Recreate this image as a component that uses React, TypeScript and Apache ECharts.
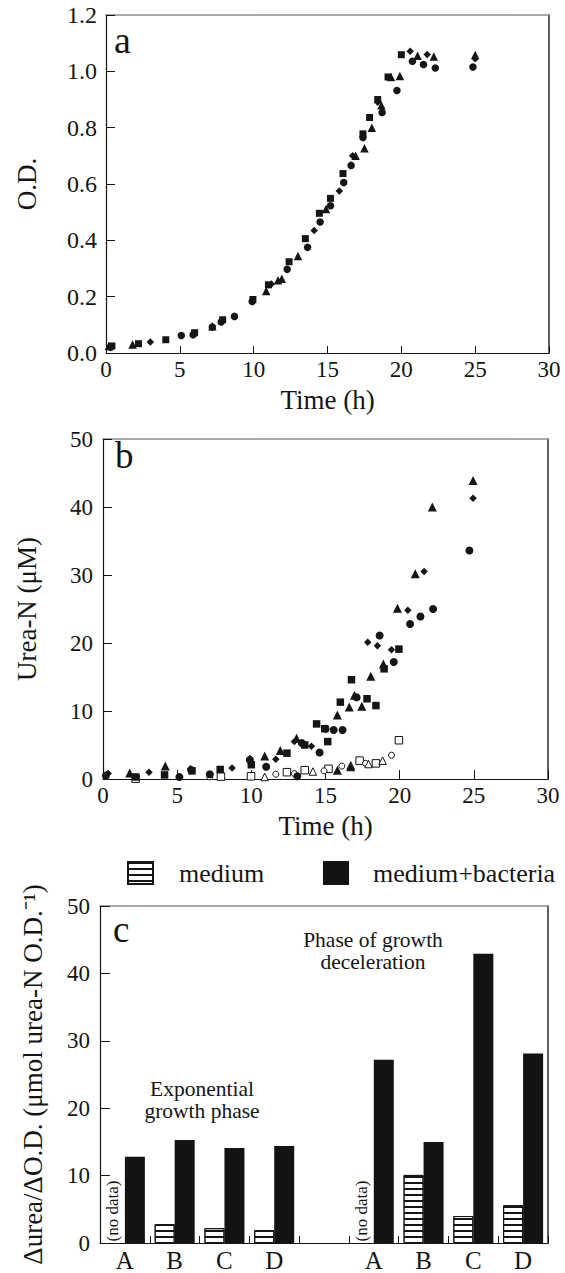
import React, { useEffect, useRef } from "react";
import * as echarts from "echarts";

const FONT = "Liberation Serif";
const INK = "#151515";

// ---------- Panel a: O.D. vs Time (h), four cultures ----------
const odCircles: [number, number][] = [
  [0.3, 0.02], [5.1, 0.062], [5.9, 0.065], [7.2, 0.092], [7.8, 0.11], [8.7, 0.13],
  [9.9, 0.183], [12.27, 0.297], [13.65, 0.375], [14.5, 0.465], [15.2, 0.523],
  [16.1, 0.605], [16.6, 0.666], [17.4, 0.765], [18.7, 0.854], [19.7, 0.932],
  [20.75, 1.036], [21.5, 1.024], [22.3, 1.012], [24.85, 1.015],
];
const odSquares: [number, number][] = [
  [0.4, 0.025], [2.2, 0.033], [4.05, 0.047], [6.0, 0.072], [7.9, 0.118], [9.95, 0.19],
  [11.0, 0.242], [12.4, 0.324], [13.5, 0.406], [14.45, 0.496], [15.2, 0.549],
  [16.05, 0.637], [17.4, 0.778], [17.85, 0.836], [18.4, 0.9], [19.1, 0.98], [20.0, 1.059],
];
const odTriangles: [number, number][] = [
  [0.2, 0.025], [1.8, 0.03], [7.2, 0.095], [10.85, 0.22], [11.65, 0.258], [11.9, 0.264],
  [13.0, 0.344], [14.9, 0.511], [16.9, 0.7], [17.5, 0.727], [18.0, 0.8], [18.65, 0.88],
  [19.3, 0.98], [19.9, 0.983], [21.1, 1.055], [22.2, 1.053], [25.0, 1.058],
];
const odDiamonds: [number, number][] = [
  [3.0, 0.039], [11.2, 0.245], [14.1, 0.435], [15.8, 0.575], [16.7, 0.7], [18.4, 0.89],
  [20.6, 1.071], [21.75, 1.06], [25.0, 1.045],
];

// ---------- Panel b: Urea-N (µM) vs Time (h) ----------
const ureaCircles: [number, number][] = [
  [0.2, 0.5], [5.15, 0.3], [5.95, 1.3], [7.2, 0.7], [9.9, 2.8], [11.0, 1.8], [13.1, 0.4],
  [13.4, 5.3], [14.6, 3.9], [15.0, 7.4], [15.55, 7.2], [16.15, 7.2], [17.1, 12.0],
  [18.65, 21.1], [19.6, 17.2], [20.7, 22.8], [21.4, 23.9], [22.25, 25.0], [24.7, 33.6],
];
const ureaSquares: [number, number][] = [
  [2.2, 0.3], [4.15, 0.6], [6.0, 1.2], [7.9, 1.4], [10.0, 2.1], [12.4, 3.8], [13.6, 5.0],
  [14.4, 8.1], [14.95, 7.4], [15.15, 5.5], [16.0, 11.3], [16.75, 14.6], [17.8, 11.8],
  [18.4, 10.8], [18.95, 16.2], [19.95, 19.1],
];
const ureaTriangles: [number, number][] = [
  [1.8, 0.9], [4.2, 1.9], [10.9, 3.4], [11.95, 4.2], [13.05, 6.0], [15.8, 1.3], [15.8, 9.4],
  [16.6, 10.6], [16.7, 1.8], [16.95, 12.3], [17.45, 10.7], [18.05, 15.1], [18.9, 16.9],
  [19.85, 25.1], [21.05, 30.2], [22.2, 40.0], [24.95, 43.9],
];
const ureaDiamonds: [number, number][] = [
  [0.35, 0.8], [3.1, 1.0], [5.9, 1.5], [8.7, 1.6], [9.9, 3.0], [11.65, 2.9], [12.9, 5.5],
  [14.05, 4.8], [17.85, 20.1], [18.5, 19.6], [19.45, 19.0], [20.55, 24.8], [21.65, 30.5],
  [24.95, 41.3],
];
const mediumSquares: [number, number][] = [
  [2.2, 0.05], [7.95, 0.35], [9.98, 0.4], [12.4, 1.0], [13.6, 1.3], [15.2, 1.5],
  [17.3, 2.7], [18.4, 2.3], [19.95, 5.7],
];
const mediumCircles: [number, number][] = [
  [7.2, 0.3], [11.65, 0.7], [12.9, 0.8], [14.9, 1.2], [16.1, 1.9], [17.7, 2.3], [19.45, 3.5],
];
const mediumTriangles: [number, number][] = [
  [10.9, 0.3], [14.15, 1.1], [16.7, 2.0], [17.9, 2.2], [18.85, 2.7],
];

// ---------- Panel c: Δurea/ΔO.D. ----------
const phaseCategories = ["A", "B", "C", "D", "", "A", "B", "C", "D"];
const mediumRates = [null, 2.8, 2.2, 1.9, null, null, 10.1, 4.0, 5.6];
const bacteriaRates = [12.8, 15.3, 14.1, 14.4, null, 27.2, 15.0, 42.9, 28.1];
const noDataSlots = [0, 5];

const timeRange = { min: 0, max: 30, interval: 5 };
const odRange = { min: 0, max: 1.2, interval: 0.2 };
const ureaRange = { min: 0, max: 50, interval: 10 };
const rateRange = { min: 0, max: 50, interval: 10 };

const tickLabel = { color: INK, fontFamily: FONT, fontSize: 23 };
const nameStyle = { color: INK, fontFamily: FONT, fontSize: 27 };

function valueAxis(gridIndex: number, range: any, extra: any = {}) {
  return {
    type: "value",
    gridIndex,
    ...range,
    splitLine: { show: false },
    axisLine: { show: true, onZero: false, lineStyle: { color: INK, width: 1.2 } },
    axisTick: { show: true, inside: true, length: 9, lineStyle: { color: INK, width: 1 } },
    axisLabel: { ...tickLabel, margin: 10 },
    ...extra,
  };
}

function frameAxis(gridIndex: number, position: string, color: string) {
  return {
    type: "value",
    gridIndex,
    position,
    min: 0,
    max: 1,
    splitLine: { show: false },
    axisLine: { show: true, onZero: false, lineStyle: { color, width: 1.5 } },
    axisTick: { show: false },
    axisLabel: { show: false },
  };
}

function scatter(name: string, data: [number, number][], gi: number, symbol: string, size: number, open = false) {
  return {
    type: "scatter",
    name,
    xAxisIndex: gi * 2,
    yAxisIndex: gi * 2,
    data,
    symbol,
    symbolSize: size,
    itemStyle: open
      ? { color: "#fff", borderColor: INK, borderWidth: 1, opacity: 1 }
      : { color: INK, opacity: 1 },
    z: open ? 3 : 4,
  };
}

const stripeDecal = {
  symbol: "rect",
  symbolSize: 1,
  dashArrayX: [1, 0],
  dashArrayY: [1.5, 3.5],
  rotation: 0,
  color: INK,
  backgroundColor: "#fff",
};

const legendText = { color: INK, fontFamily: FONT, fontSize: 26 };

const option: any = {
  animation: false,
  backgroundColor: "#fff",
  textStyle: { fontFamily: FONT },
  grid: [
    { left: 106, top: 15, width: 443, height: 338 },
    { left: 103, top: 439, width: 445, height: 340 },
    { left: 100, top: 906, width: 448, height: 340 },
  ],
  xAxis: [
    valueAxis(0, timeRange, {
      axisTick: { show: true, inside: true, length: 7, lineStyle: { color: INK } },
      axisLabel: { ...tickLabel, margin: 5 },
      name: "Time (h)", nameLocation: "middle", nameGap: 33, nameTextStyle: nameStyle,
    }),
    frameAxis(0, "top", "#8c8c8c"),
    valueAxis(1, timeRange, {
      axisLabel: { ...tickLabel, margin: 5 },
      name: "Time (h)", nameLocation: "middle", nameGap: 33, nameTextStyle: nameStyle,
    }),
    frameAxis(1, "top", "#8c8c8c"),
    {
      type: "category",
      gridIndex: 2,
      data: phaseCategories,
      axisLine: { show: true, onZero: false, lineStyle: { color: INK, width: 1.2 } },
      axisTick: { show: true, inside: true, length: 7, interval: 0, lineStyle: { color: INK } },
      axisLabel: { color: INK, fontFamily: FONT, fontSize: 25, margin: 5, interval: 0 },
      splitLine: { show: false },
    },
    frameAxis(2, "top", "#8c8c8c"),
  ],
  yAxis: [
    valueAxis(0, odRange, {
      axisLabel: { ...tickLabel, fontSize: 24, margin: 9, formatter: (v: number) => v.toFixed(1) },
      name: "O.D.", nameLocation: "middle", nameGap: 66, nameTextStyle: nameStyle,
    }),
    frameAxis(0, "right", "#2a2a2a"),
    valueAxis(1, ureaRange, {
      name: "Urea-N (μM)", nameLocation: "middle", nameGap: 63, nameTextStyle: nameStyle,
    }),
    frameAxis(1, "right", "#2a2a2a"),
    valueAxis(2, rateRange, {
      axisTick: { show: true, inside: true, length: 10, lineStyle: { color: INK } },
      name: "Δurea/ΔO.D. (μmol urea-N O.D.⁻¹)", nameLocation: "middle", nameGap: 54,
      nameTextStyle: nameStyle,
    }),
    frameAxis(2, "right", "#2a2a2a"),
  ],
  legend: [
    {
      data: [{ name: "medium", icon: "rect" }], left: 127, top: 860, padding: 0, itemWidth: 25, itemHeight: 22,
      selectedMode: false,
      textStyle: { ...legendText, padding: [0, 0, 0, 21] },
    },
    {
      data: [{ name: "medium+bacteria", icon: "rect" }], left: 323, top: 860, padding: 0, itemWidth: 26, itemHeight: 24,
      selectedMode: false,
      textStyle: { ...legendText, padding: [0, 0, 0, 19] },
    },
  ],
  series: [
    scatter("a-circle", odCircles, 0, "circle", 7.5),
    scatter("a-square", odSquares, 0, "rect", 7),
    scatter("a-triangle", odTriangles, 0, "triangle", 8.5),
    scatter("a-diamond", odDiamonds, 0, "diamond", 7.5),
    scatter("b-circle", ureaCircles, 1, "circle", 8),
    scatter("b-square", ureaSquares, 1, "rect", 7.5),
    scatter("b-triangle", ureaTriangles, 1, "triangle", 9),
    scatter("b-diamond", ureaDiamonds, 1, "diamond", 7.5),
    scatter("b-medium-square", mediumSquares, 1, "rect", 7.5, true),
    scatter("b-medium-circle", mediumCircles, 1, "circle", 6, true),
    scatter("b-medium-triangle", mediumTriangles, 1, "triangle", 7.5, true),
    {
      type: "bar",
      name: "medium",
      xAxisIndex: 4,
      yAxisIndex: 4,
      data: mediumRates,
      barWidth: 20,
      barGap: "0%",
      itemStyle: { color: "#fff", borderColor: INK, borderWidth: 1, decal: stripeDecal },
    },
    {
      type: "bar",
      name: "medium+bacteria",
      xAxisIndex: 4,
      yAxisIndex: 4,
      data: bacteriaRates,
      barWidth: 20,
      barGap: "0%",
      itemStyle: { color: "#131313" },
    },
  ],
  graphic: [
    { id: "la", type: "text", x: 114, y: 40, style: { text: "a", font: `38px ${FONT}`, fill: INK, verticalAlign: "middle" } },
    { id: "lb", type: "text", x: 115, y: 455, style: { text: "b", font: `37px ${FONT}`, fill: INK, verticalAlign: "middle" } },
    { id: "lc", type: "text", x: 113, y: 929, style: { text: "c", font: `37px ${FONT}`, fill: INK, verticalAlign: "middle" } },
    {
      id: "exp", type: "text", x: 202, y: 1100,
      style: { text: "Exponential\ngrowth phase", font: `21.5px ${FONT}`, lineHeight: 22, fill: INK, align: "center", verticalAlign: "middle" },
    },
    {
      id: "dec", type: "text", x: 373, y: 951,
      style: { text: "Phase of growth\ndeceleration", font: `21.5px ${FONT}`, lineHeight: 22, fill: INK, align: "center", verticalAlign: "middle" },
    },
  ],
};

export default function App() {
  const ref = useRef<HTMLDivElement>(null);
  useEffect(() => {
    const el = ref.current;
    if (!el) return;
    const chart = echarts.init(el, undefined, { renderer: "svg" });
    chart.setOption(option);
    const noData = noDataSlots.map((slot, k) => {
      const p = chart.convertToPixel({ xAxisIndex: 4, yAxisIndex: 4 }, [slot, 0]) as number[];
      return {
        id: "nodata" + k,
        type: "text",
        x: p[0] - 12,
        y: p[1] - 32,
        rotation: Math.PI / 2,
        style: { text: "(no data)", font: `17px ${FONT}`, fill: INK, align: "center", verticalAlign: "middle" },
      };
    });
    chart.setOption({ graphic: noData });
    return () => chart.dispose();
  }, []);
  return (
    <div
      ref={ref}
      style={{ position: "absolute", left: 0, top: 0, width: 565, height: 1273, background: "#fff" }}
    />
  );
}
